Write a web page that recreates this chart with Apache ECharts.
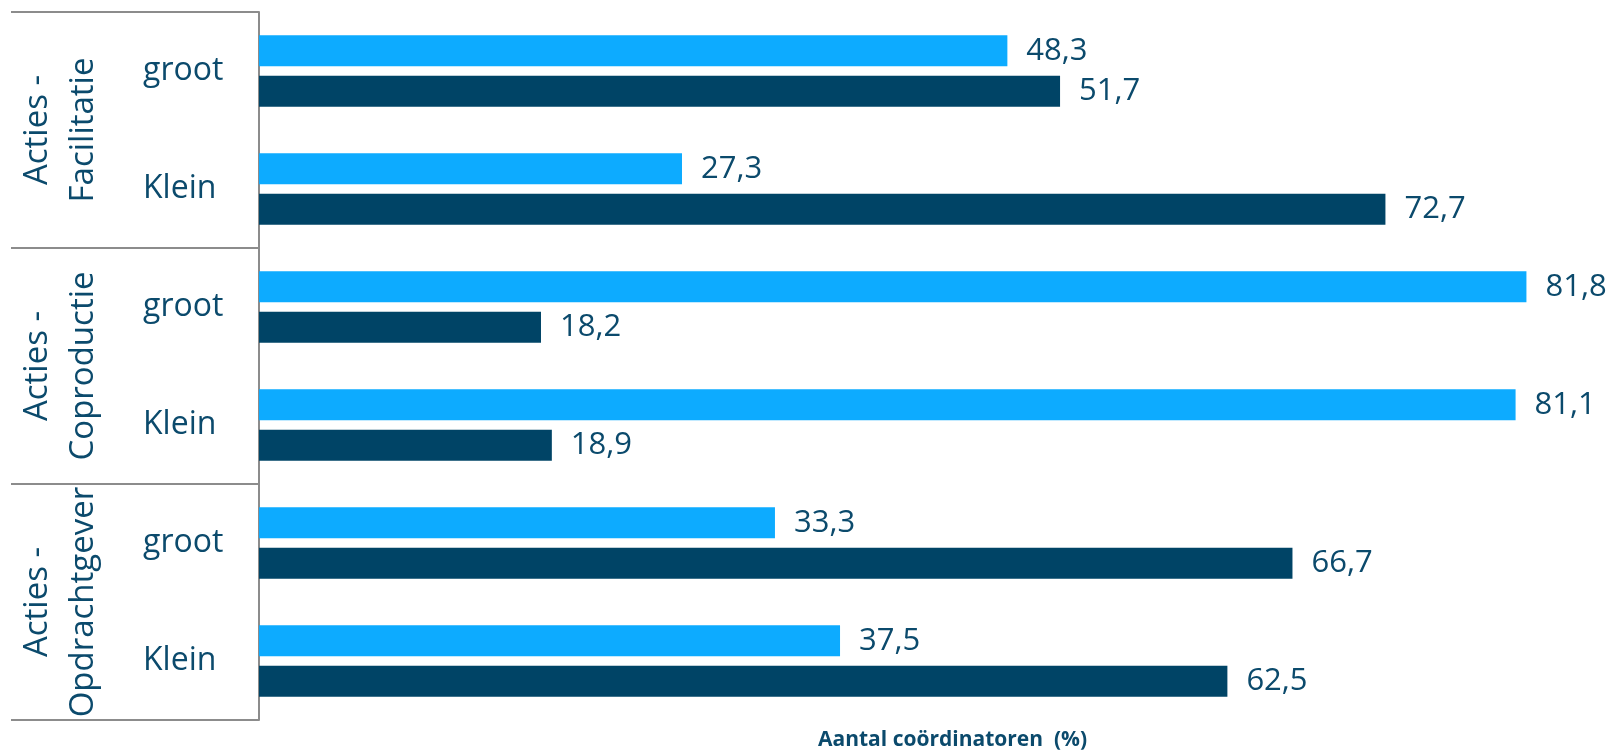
<!DOCTYPE html>
<html>
<head>
<meta charset="utf-8">
<script src="https://cdn.jsdelivr.net/npm/echarts@6/dist/echarts.min.js"></script>
<style>html,body{margin:0;padding:0;background:#fff}#c{width:1614px;height:755px}</style>
</head>
<body>
<div id="c"></div>
<script>
const groups = ['Acties -\nFacilitatie', 'Acties -\nCoproductie', 'Acties -\nOpdrachtgever'];
const categories = ['groot', 'Klein', 'groot', 'Klein', 'groot', 'Klein'];
const seriesLight = [48.3, 27.3, 81.8, 81.1, 33.3, 37.5];
const seriesDark = [51.7, 72.7, 18.2, 18.9, 66.7, 62.5];
const axisTitle = 'Aantal coördinatoren  (%)';

const TXT = '#0B4A6C';
const FONT = 'Open Sans';
const chart = echarts.init(document.getElementById('c'), null, {renderer: 'canvas'});
const lbl = {
  show: true, position: 'right', distance: 19, color: TXT, fontFamily: FONT, fontSize: 31,
  formatter: p => String(p.value.toFixed(1)).replace('.', ',')
};
chart.setOption({
  animation: false,
  grid: {left: 259, right: 7, top: 12, bottom: 35},
  xAxis: {type: 'value', min: 0, max: 87, show: false},
  yAxis: [
    {
      type: 'category', data: categories, inverse: true, position: 'left',
      axisLine: {show: true, lineStyle: {color: '#8C8C8C', width: 2}},
      axisTick: {show: false},
      axisLabel: {interval: 0, margin: 116, align: 'left', verticalAlign: 'middle',
        color: TXT, fontFamily: FONT, fontSize: 32}
    },
    {
      type: 'category', data: groups, inverse: true, position: 'left',
      axisLine: {show: false},
      axisTick: {show: true, length: 248, lineStyle: {color: '#8C8C8C', width: 2}},
      axisLabel: {interval: 0, rotate: 90, margin: 198, align: 'center', verticalAlign: 'middle',
        color: TXT, fontFamily: FONT, fontSize: 33, lineHeight: 46}
    }
  ],
  series: [
    {type: 'bar', data: seriesLight, yAxisIndex: 0, barWidth: 31, barGap: '30%',
      itemStyle: {color: '#0DABFF'}, label: lbl},
    {type: 'bar', data: seriesDark, yAxisIndex: 0, barWidth: 31, barGap: '30%',
      itemStyle: {color: '#004466'}, label: lbl}
  ],
  graphic: [{
    type: 'text', left: 818, top: 730,
    style: {text: axisTitle, fill: TXT, font: 'bold 21px "' + FONT + '"'}
  }]
});
</script>
</body>
</html>
